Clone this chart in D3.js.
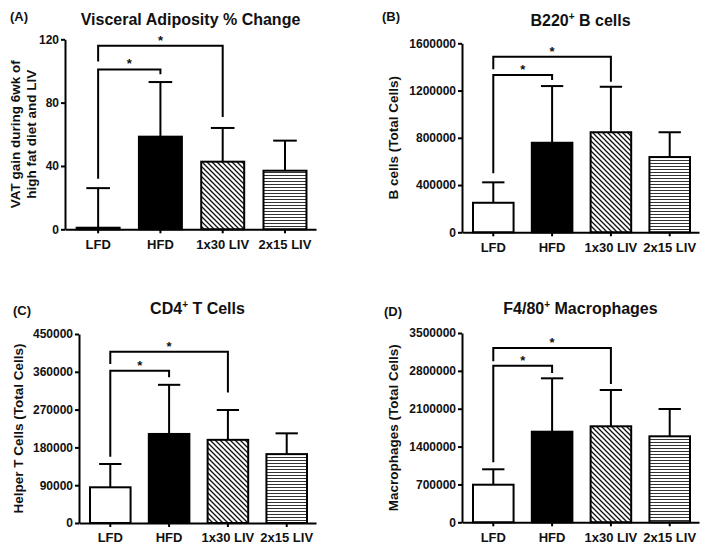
<!DOCTYPE html>
<html>
<head>
<meta charset="utf-8">
<script src="https://cdn.jsdelivr.net/npm/d3@7"></script>
<style>
  html, body { margin: 0; padding: 0; background: #fff; }
  svg { display: block; font-family: "Liberation Sans", Arial, Helvetica, sans-serif; }
</style>
</head>
<body>
<script>
// ---------------- DATA ----------------
const categories = ["LFD", "HFD", "1x30 LIV", "2x15 LIV"];

// (A) Visceral adiposity % change
const vatMeans = [1, 58.5, 42.7, 37];
const vatSD    = [25, 34.5, 21.3, 19];
const vatTicks = [0, 40, 80, 120];
// [fromIndex, toIndex, bracketValue, leftLegEnd, rightLegEnd]
const vatBrackets = [[0, 1, 101, 32, 98], [0, 2, 116, 106, 71]];

// (B) B220+ B cells
const bMeans = [250000, 758000, 847000, 637000];
const bSD    = [173000, 480000, 385000, 210000];
const bTicks = [0, 400000, 800000, 1200000, 1600000];
const bBrackets = [[0, 1, 1332000, 500000, 1289000], [0, 2, 1487000, 1380000, 1275000]];

// (C) CD4+ T cells
const cMeans = [85000, 212000, 198000, 164000];
const cSD    = [55500, 117000, 71000, 49500];
const cTicks = [0, 90000, 180000, 270000, 360000, 450000];
const cBrackets = [[0, 1, 362600, 158000, 347000], [0, 2, 408000, 378600, 311000]];

// (D) F4/80+ macrophages
const dMeans = [695000, 1675000, 1775000, 1590000];
const dSD    = [285000, 987000, 671000, 505000];
const dTicks = [0, 700000, 1400000, 2100000, 2800000, 3500000];
const dBrackets = [[0, 1, 2896000, 1109000, 2760000], [0, 2, 3223000, 2977000, 2557000]];

// ---------------- DRAWING ----------------
const W = 704, H = 548;
const ink = "#111";
const svg = d3.select("body").append("svg").attr("width", W).attr("height", H);

const defs = svg.append("defs");
const diag = defs.append("pattern").attr("id", "diag").attr("patternUnits", "userSpaceOnUse")
  .attr("width", 5).attr("height", 5);
diag.append("rect").attr("width", 5).attr("height", 5).attr("fill", "#fff");
diag.append("path").attr("d", "M-1,-1 L6,6 M-1,4 L1,6 M4,-1 L6,1")
  .attr("stroke", ink).attr("stroke-width", 1.3).attr("fill", "none");
const horiz = defs.append("pattern").attr("id", "horiz").attr("patternUnits", "userSpaceOnUse")
  .attr("width", 4).attr("height", 3);
horiz.append("rect").attr("width", 4).attr("height", 3).attr("fill", "#fff");
horiz.append("line").attr("x1", 0).attr("x2", 4).attr("y1", 1.5).attr("y2", 1.5)
  .attr("stroke", "#333").attr("stroke-width", 1);

const fills = ["#fff", "#000", "url(#diag)", "url(#horiz)"];

function drawPanel(p) {
  const x = d3.scaleBand().domain(categories).range([p.x0, p.x1])
    .paddingInner(0.31).paddingOuter(0.17).align(0.55);
  const y = d3.scaleLinear().domain([0, d3.max(p.ticks)]).range([p.yBot, p.yTop]);
  const g = svg.append("g");
  const cx = i => x(categories[i]) + x.bandwidth() / 2;
  const capW = x.bandwidth() * 0.55;

  // bars
  g.selectAll("rect.bar").data(p.means).join("rect").attr("class", "bar")
    .attr("x", (d, i) => x(categories[i]))
    .attr("y", d => y(d))
    .attr("width", x.bandwidth())
    .attr("height", d => y(0) - y(d))
    .attr("fill", (d, i) => fills[i])
    .attr("stroke", "#000").attr("stroke-width", 2);

  // error bars (upper only)
  const eb = g.selectAll("g.eb").data(p.means).join("g").attr("class", "eb");
  eb.append("line")
    .attr("x1", (d, i) => cx(i)).attr("x2", (d, i) => cx(i))
    .attr("y1", d => y(d)).attr("y2", (d, i) => y(d + p.sd[i]))
    .attr("stroke", "#000").attr("stroke-width", 2);
  eb.append("line")
    .attr("x1", (d, i) => cx(i) - capW / 2).attr("x2", (d, i) => cx(i) + capW / 2)
    .attr("y1", (d, i) => y(d + p.sd[i])).attr("y2", (d, i) => y(d + p.sd[i]))
    .attr("stroke", "#000").attr("stroke-width", 2);

  // significance brackets
  p.brackets.forEach(b => {
    const xl = cx(b[0]), xr = cx(b[1]);
    g.append("path")
      .attr("d", `M${xl},${y(b[3])}V${y(b[2])}H${xr}V${y(b[4])}`)
      .attr("fill", "none").attr("stroke", "#000").attr("stroke-width", 2);
    g.append("text").attr("x", (xl + xr) / 2).attr("y", y(b[2]) - 1)
      .attr("text-anchor", "middle").attr("font-size", 13).attr("font-weight", "bold")
      .attr("fill", ink).text("*");
  });

  // axes
  const yAxis = d3.axisLeft(y).tickValues(p.ticks).tickFormat(d3.format("d"))
    .tickSize(4).tickPadding(2).tickSizeOuter(0);
  const ya = g.append("g").attr("transform", `translate(${p.x0},0)`).call(yAxis);
  const xAxis = d3.axisBottom(x).tickSize(4).tickPadding(6).tickSizeOuter(0);
  const xa = g.append("g").attr("transform", `translate(0,${p.yBot})`).call(xAxis);
  [ya, xa].forEach(a => {
    a.select(".domain").attr("stroke", "#000").attr("stroke-width", 2);
    a.selectAll(".tick line").attr("stroke", "#000").attr("stroke-width", 2);
    a.selectAll(".tick text").attr("fill", ink).attr("font-weight", "bold")
      .attr("font-family", "'Liberation Sans', Arial, sans-serif");
  });
  ya.selectAll(".tick text").attr("font-size", 12);
  xa.selectAll(".tick text").attr("font-size", 13);

  // panel letter
  svg.append("text").attr("x", p.letterX).attr("y", p.letterY)
    .attr("font-size", 13).attr("font-weight", "bold").attr("fill", ink).text(p.letter);

  // title
  const t = svg.append("text").attr("x", (p.x0 + p.x1) / 2).attr("y", p.titleY)
    .attr("text-anchor", "middle").attr("font-size", 16).attr("font-weight", "bold")
    .attr("fill", ink).style("white-space", "pre");
  t.append("tspan").text(p.title[0]);
  if (p.title.length > 1) {
    t.append("tspan").attr("font-size", 10).attr("dy", -6).text(p.title[1]);
    t.append("tspan").attr("dy", 6).text(p.title[2]);
  }

  // y-axis title
  const yc = (p.yTop + p.yBot) / 2;
  p.ylabel.forEach((line, k) => {
    svg.append("text")
      .attr("transform", `translate(${p.ylabelX[k]},${yc}) rotate(-90)`)
      .attr("text-anchor", "middle").attr("dy", "0.35em")
      .attr("font-size", 13.5).attr("font-weight", "bold").attr("fill", ink)
      .text(line);
  });
}

drawPanel({
  x0: 65, x1: 316, yTop: 39.3, yBot: 229.3,
  means: vatMeans, sd: vatSD, ticks: vatTicks, brackets: vatBrackets,
  letter: "(A)", letterX: 10, letterY: 21,
  title: ["Visceral Adiposity % Change"], titleY: 25,
  ylabel: ["VAT gain during 6wk of", "high fat diet and LIV"], ylabelX: [15, 31]
});
drawPanel({
  x0: 462, x1: 699, yTop: 43.3, yBot: 232.3,
  means: bMeans, sd: bSD, ticks: bTicks, brackets: bBrackets,
  letter: "(B)", letterX: 382, letterY: 21,
  title: ["B220", "+", " B cells"], titleY: 26,
  ylabel: ["B cells (Total Cells)"], ylabelX: [393]
});
drawPanel({
  x0: 79, x1: 316, yTop: 334, yBot: 523,
  means: cMeans, sd: cSD, ticks: cTicks, brackets: cBrackets,
  letter: "(C)", letterX: 13, letterY: 315,
  title: ["CD4", "+", " T Cells"], titleY: 314,
  ylabel: ["Helper T Cells (Total Cells)"], ylabelX: [18]
});
drawPanel({
  x0: 462, x1: 699, yTop: 333, yBot: 522.3,
  means: dMeans, sd: dSD, ticks: dTicks, brackets: dBrackets,
  letter: "(D)", letterX: 384, letterY: 316,
  title: ["F4/80", "+", " Macrophages"], titleY: 314,
  ylabel: ["Macrophages (Total Cells)"], ylabelX: [393]
});
</script>
</body>
</html>
